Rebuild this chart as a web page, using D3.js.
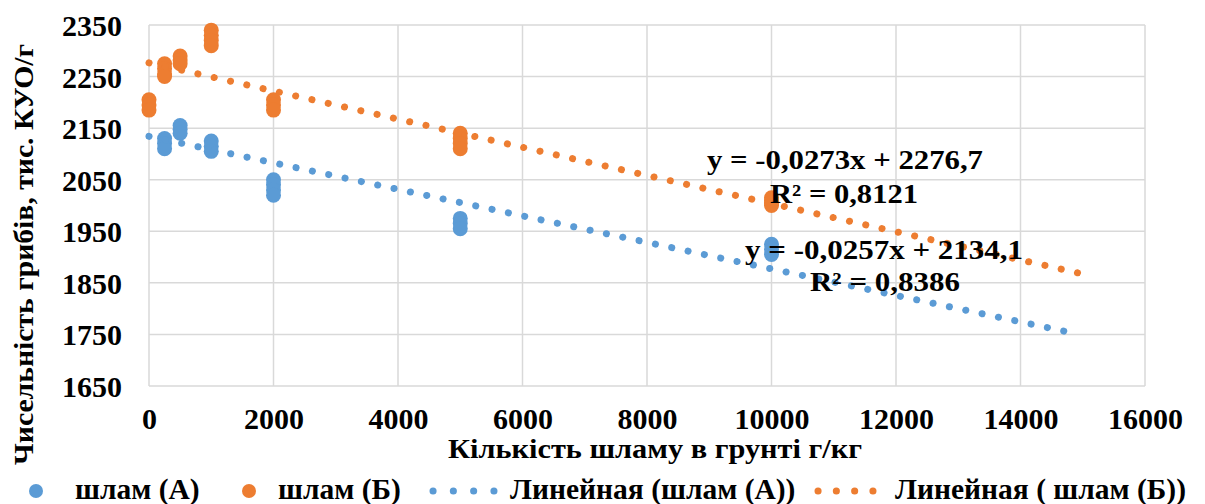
<!DOCTYPE html>
<html><head><meta charset="utf-8">
<script src="https://cdn.jsdelivr.net/npm/d3@7"></script>
<style>
html,body{margin:0;padding:0;background:#fff;}
</style></head>
<body><svg id="c" width="1205" height="504"></svg>
<script>
const FF = "Liberation Serif";
// ---- data ----
const xTicks = [0,2000,4000,6000,8000,10000,12000,14000,16000];
const yTicks = [1650,1750,1850,1950,2050,2150,2250,2350];
const seriesA_x = [250,250,250,500,500,500,1000,1000,1000,2000,2000,2000,2000,5000,5000,5000,10000,10000,10000];
const seriesA_y = [2130,2120,2110,2155,2148,2140,2125,2115,2105,2050,2040,2030,2020,1975,1965,1955,1925,1915,1905];
const seriesB_x = [0,0,0,250,250,250,250,500,500,500,1000,1000,1000,1000,2000,2000,2000,5000,5000,5000,5000,10000,10000,10000,10000];
const seriesB_y = [2205,2195,2185,2275,2265,2255,2250,2290,2282,2275,2340,2330,2320,2310,2205,2195,2185,2140,2130,2120,2110,2015,2010,2005,2000];
const trendA = {slope:-0.0257, intercept:2134.1, x0:0, x1:14800, eq:"y = -0,0257x + 2134,1", r2:"R² = 0,8386"};
const trendB = {slope:-0.0273, intercept:2276.7, x0:0, x1:15000, eq:"y = -0,0273x + 2276,7", r2:"R² = 0,8121"};
const legendLabels = ["шлам (А)","шлам (Б)","Линейная (шлам (А))","Линейная ( шлам (Б))"];
const xTitle = "Кількість шламу в грунті г/кг";
const yTitle = "Чисельність грибів, тис. КУО/г";
const colA = "#5B9BD5", colB = "#ED7D31";

// ---- chart ----
const svg = d3.select("#c");
const L=149, R=1145, T=25, B=386;
const x = d3.scaleLinear().domain([0,16000]).range([L,R]);
const y = d3.scaleLinear().domain([1650,2350]).range([B,T]);

function st(sel,size){ return sel.attr("font-family",FF).attr("font-weight","bold").attr("font-size",size).attr("fill","#000"); }

const grid = svg.append("g");
grid.selectAll("line.h").data(yTicks).enter().append("line")
  .attr("x1",L).attr("x2",R).attr("y1",d=>y(d)).attr("y2",d=>y(d))
  .attr("stroke","#d9d9d9").attr("stroke-width",1.5);
grid.selectAll("line.v").data(xTicks).enter().append("line")
  .attr("y1",T).attr("y2",B).attr("x1",d=>x(d)).attr("x2",d=>x(d))
  .attr("stroke","#d9d9d9").attr("stroke-width",1.5);

// axes (labels only)
const xAxis = d3.axisBottom(x).tickValues(xTicks).tickSize(0).tickPadding(0).tickFormat(d3.format("d"));
const gx = svg.append("g").attr("transform",`translate(0,${B})`).call(xAxis);
gx.attr("font-family",null).attr("font-size",null);
gx.select(".domain").remove();
st(gx.selectAll("text"),30).attr("dy",null).attr("y",43);
const yAxis = d3.axisLeft(y).tickValues(yTicks).tickSize(0).tickPadding(0).tickFormat(d3.format("d"));
const gy = svg.append("g").attr("transform",`translate(122,0)`).call(yAxis);
gy.attr("font-family",null).attr("font-size",null);
gy.select(".domain").remove();
st(gy.selectAll("text"),30).attr("dy","0.35em").attr("x",0);

// points
const ptsA = seriesA_x.map((v,i)=>({x:v,y:seriesA_y[i]}));
const ptsB = seriesB_x.map((v,i)=>({x:v,y:seriesB_y[i]}));
svg.append("g").selectAll("circle").data(ptsA).enter().append("circle")
  .attr("cx",d=>x(d.x)).attr("cy",d=>y(d.y)).attr("r",7.5).attr("fill",colA);
svg.append("g").selectAll("circle").data(ptsB).enter().append("circle")
  .attr("cx",d=>x(d.x)).attr("cy",d=>y(d.y)).attr("r",7.5).attr("fill",colB);

// trend lines
function trend(t,col){
  const line = d3.line().x(d=>x(d)).y(d=>y(t.intercept+t.slope*d));
  svg.append("path").attr("d",line([t.x0,t.x1])).attr("fill","none")
    .attr("stroke",col).attr("stroke-width",7).attr("stroke-linecap","round")
    .attr("stroke-dasharray","0.1 16.6");
}
trend(trendA,colA);
trend(trendB,colB);

// equations (stretched horizontally like the original)
function eqText(t,x0,yb,len){
  st(svg.append("text"),27).attr("x",x0).attr("y",yb)
    .attr("textLength",len).attr("lengthAdjust","spacingAndGlyphs").text(t);
}
eqText(trendB.eq,707,169,276);
eqText(trendB.r2,770,203,148);
eqText(trendA.eq,745,259,278);
eqText(trendA.r2,810,291,150);

// titles
st(svg.append("text"),27).attr("x",448).attr("y",458)
  .attr("textLength",414).attr("lengthAdjust","spacingAndGlyphs").text(xTitle);
st(svg.append("text"),27).attr("transform","translate(33,465) rotate(-90)").attr("x",0).attr("y",0)
  .attr("textLength",421).attr("lengthAdjust","spacingAndGlyphs").text(yTitle);

// legend
const LY = 491, LB = 499;
svg.append("circle").attr("cx",36).attr("cy",LY).attr("r",7).attr("fill",colA);
st(svg.append("text"),29.5).attr("x",75).attr("y",LB).text(legendLabels[0]);
svg.append("circle").attr("cx",249).attr("cy",LY).attr("r",7).attr("fill",colB);
st(svg.append("text"),29.5).attr("x",278).attr("y",LB).text(legendLabels[1]);
svg.append("path").attr("d",`M433,${LY}H494`).attr("stroke",colA).attr("stroke-width",7).attr("stroke-linecap","round").attr("stroke-dasharray","0.1 20.2");
st(svg.append("text"),29.5).attr("x",510).attr("y",LB).text(legendLabels[2]);
svg.append("path").attr("d",`M818,${LY}H873`).attr("stroke",colB).attr("stroke-width",7).attr("stroke-linecap","round").attr("stroke-dasharray","0.1 18.2");
st(svg.append("text"),29.5).attr("x",895).attr("y",LB).text(legendLabels[3]);
</script></body></html>
